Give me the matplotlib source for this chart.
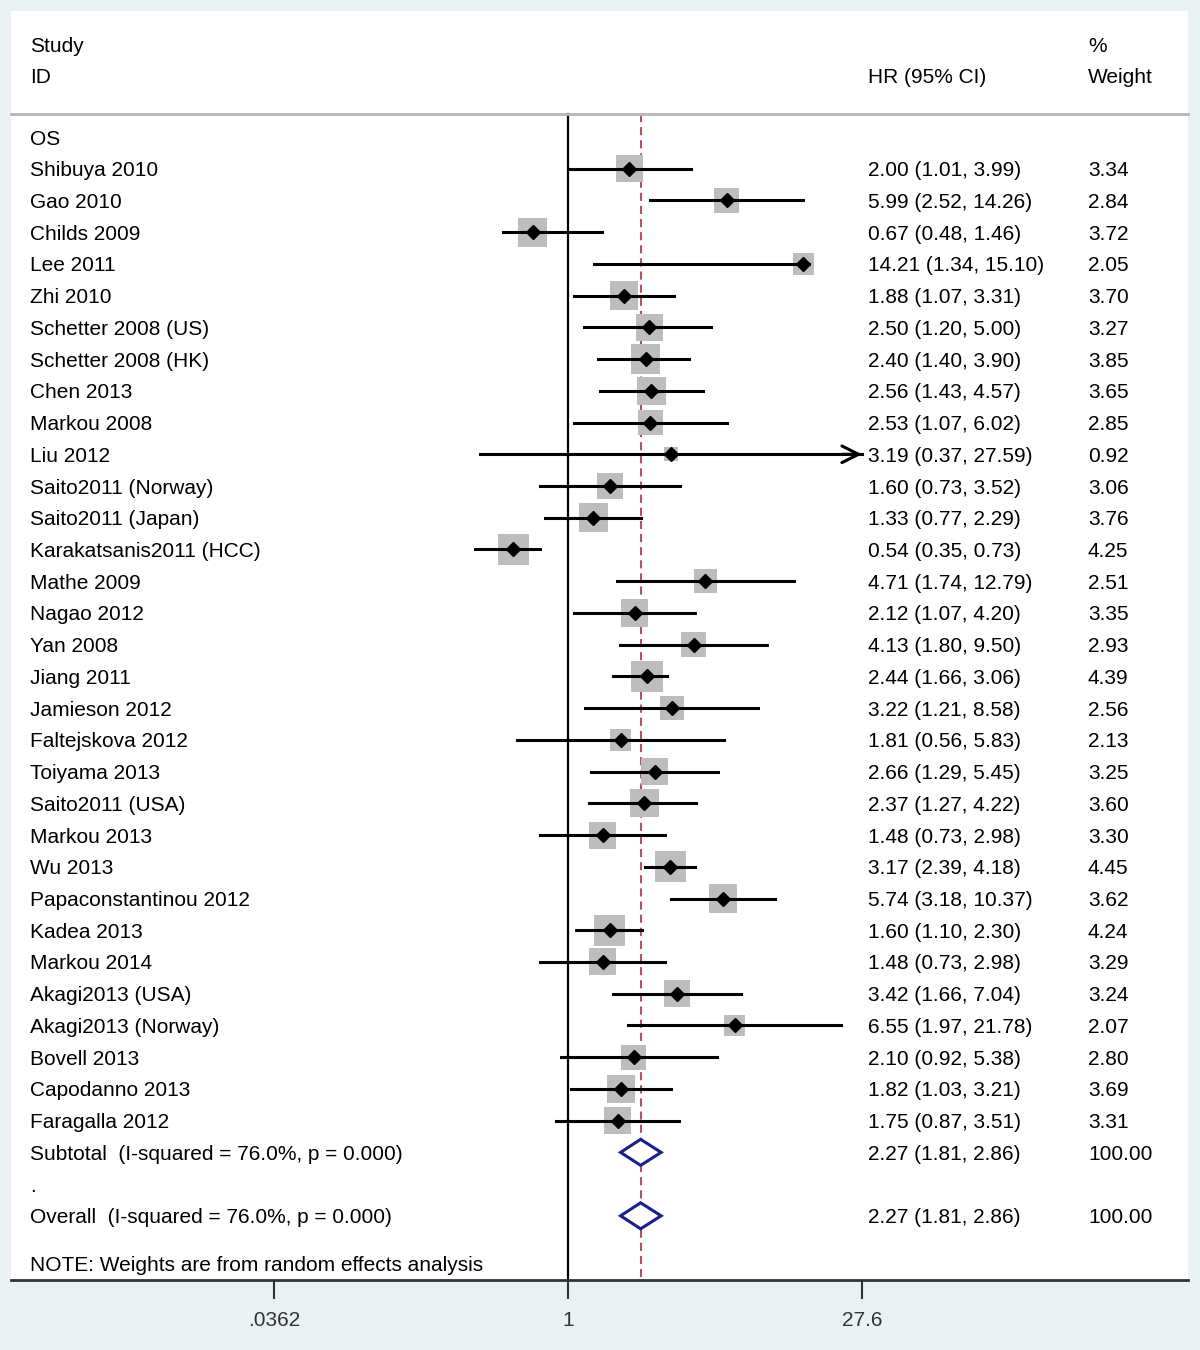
import numpy as np
import matplotlib.pyplot as plt
from matplotlib import transforms
from matplotlib.patches import Polygon

plt.rcParams['font.family'] = ['Liberation Sans', 'DejaVu Sans']

studies = ["Shibuya 2010", "Gao 2010", "Childs 2009", "Lee 2011", "Zhi 2010",
           "Schetter 2008 (US)", "Schetter 2008 (HK)", "Chen 2013", "Markou 2008",
           "Liu 2012", "Saito2011 (Norway)", "Saito2011 (Japan)",
           "Karakatsanis2011 (HCC)", "Mathe 2009", "Nagao 2012", "Yan 2008",
           "Jiang 2011", "Jamieson 2012", "Faltejskova 2012", "Toiyama 2013",
           "Saito2011 (USA)", "Markou 2013", "Wu 2013", "Papaconstantinou 2012",
           "Kadea 2013", "Markou 2014", "Akagi2013 (USA)", "Akagi2013 (Norway)",
           "Bovell 2013", "Capodanno 2013", "Faragalla 2012"]
hr = [2.00, 5.99, 0.67, 14.21, 1.88, 2.50, 2.40, 2.56, 2.53, 3.19, 1.60, 1.33,
      0.54, 4.71, 2.12, 4.13, 2.44, 3.22, 1.81, 2.66, 2.37, 1.48, 3.17, 5.74,
      1.60, 1.48, 3.42, 6.55, 2.10, 1.82, 1.75]
ci_lo = [1.01, 2.52, 0.48, 1.34, 1.07, 1.20, 1.40, 1.43, 1.07, 0.37, 0.73, 0.77,
         0.35, 1.74, 1.07, 1.80, 1.66, 1.21, 0.56, 1.29, 1.27, 0.73, 2.39, 3.18,
         1.10, 0.73, 1.66, 1.97, 0.92, 1.03, 0.87]
ci_hi = [3.99, 14.26, 1.46, 15.10, 3.31, 5.00, 3.90, 4.57, 6.02, 27.59, 3.52, 2.29,
         0.73, 12.79, 4.20, 9.50, 3.06, 8.58, 5.83, 5.45, 4.22, 2.98, 4.18, 10.37,
         2.30, 2.98, 7.04, 21.78, 5.38, 3.21, 3.51]
weights = [3.34, 2.84, 3.72, 2.05, 3.70, 3.27, 3.85, 3.65, 2.85, 0.92, 3.06, 3.76,
           4.25, 2.51, 3.35, 2.93, 4.39, 2.56, 2.13, 3.25, 3.60, 3.30, 4.45, 3.62,
           4.24, 3.29, 3.24, 2.07, 2.80, 3.69, 3.31]
pooled = [2.27, 1.81, 2.86]
pooled_label = "(I-squared = 76.0%, p = 0.000)"
tick_vals = [0.0362, 1, 27.6]
tick_labels = ['.0362', '1', '27.6']

FS = 15
BG = '#EAF1F3'

fig = plt.figure(figsize=(12, 13.5), dpi=100)
fig.patch.set_facecolor(BG)
ax = fig.add_axes([11/1200, 1 - 1280/1350, 1177/1200, 1269/1350])
ax.set_facecolor('white')

# log scale: 1 at px 568, 27.6 at px 862
k = (862 - 568) / np.log(27.6)
ax.set_xscale('log')
ax.set_xlim(np.exp((11 - 568) / k), np.exp((1188 - 568) / k))
row_h = 31.73
ax.set_ylim((1280 - 137) / row_h, (11 - 137) / row_h)

for s in ['left', 'top', 'right']:
    ax.spines[s].set_visible(False)
ax.spines['bottom'].set_linewidth(2)
ax.spines['bottom'].set_color('#333333')
ax.yaxis.set_visible(False)
ax.set_xticks(tick_vals)
ax.set_xticklabels(tick_labels)
ax.minorticks_off()
ax.tick_params(axis='x', length=14, width=1.5, pad=8, labelsize=FS, colors='#333333')

tr = transforms.blended_transform_factory(ax.transAxes, ax.transData)
def col(px):
    return (px - 11) / 1177

def txt(x, y, s):
    ax.text(x, y, s, transform=tr, fontsize=FS, va='center_baseline')

x_id, x_hr, x_w = col(30), col(868), col(1088)
sep = (114 - 137) / row_h
bottom = ax.get_ylim()[0]

# header
txt(x_id, -2.93, "Study")
txt(x_id, -1.95, "ID")
txt(x_hr, -1.95, "HR (95% CI)")
txt(x_w, -2.93, "%")
txt(x_w, -1.95, "Weight")
ax.plot([0, 1], [sep, sep], transform=tr, color='#B4B4B4', lw=2, clip_on=False)

# reference lines
ax.plot([1, 1], [sep, bottom], color='black', lw=1.6, zorder=1)
ax.plot([pooled[0], pooled[0]], [sep, bottom], color='#B8525F', lw=1.5,
        ls=(0, (3.9, 2.4)), zorder=1)

txt(x_id, 0, "OS")

rows = np.arange(1, len(studies) + 1)
x_end = tick_vals[-1]
ax.scatter(hr, rows, s=[115 * w for w in weights], marker='s', color='#BDBDBD',
           edgecolors='none', zorder=2)
for r, name, e, lo, hi, w in zip(rows, studies, hr, ci_lo, ci_hi, weights):
    if hi > 27.5:
        # CI runs past the axis range: arrow to the edge
        ax.plot([lo, x_end], [r, r], color='black', lw=2.2, zorder=3)
        ax.annotate('', xy=(x_end, r), xytext=(x_end * 0.8, r),
                    arrowprops=dict(arrowstyle='->', lw=2.2, color='black',
                                    mutation_scale=30, shrinkA=0, shrinkB=0),
                    zorder=3)
    else:
        ax.plot([lo, hi], [r, r], color='black', lw=2.2, zorder=3)
    txt(x_id, r, name)
    txt(x_hr, r, f"{e:.2f} ({lo:.2f}, {hi:.2f})")
    txt(x_w, r, f"{w:.2f}")
ax.plot(hr, rows, 'D', color='black', ms=7.5, zorder=4)

# pooled rows
def pooled_diamond(r):
    est, lo, hi = pooled
    h = 0.41
    ax.add_patch(Polygon([(lo, r), (est, r - h), (hi, r), (est, r + h)],
                         closed=True, facecolor='white', edgecolor='#1C1F8A',
                         lw=2.2, zorder=4))
    txt(x_hr, r, f"{est:.2f} ({lo:.2f}, {hi:.2f})")
    txt(x_w, r, "100.00")

r_sub = len(studies) + 1
txt(x_id, r_sub, "Subtotal  " + pooled_label)
pooled_diamond(r_sub)
txt(x_id, r_sub + 1, ".")
txt(x_id, r_sub + 2, "Overall  " + pooled_label)
pooled_diamond(r_sub + 2)
txt(x_id, r_sub + 3.5, "NOTE: Weights are from random effects analysis")

fig.savefig('out.png', dpi=100, facecolor=fig.get_facecolor())
